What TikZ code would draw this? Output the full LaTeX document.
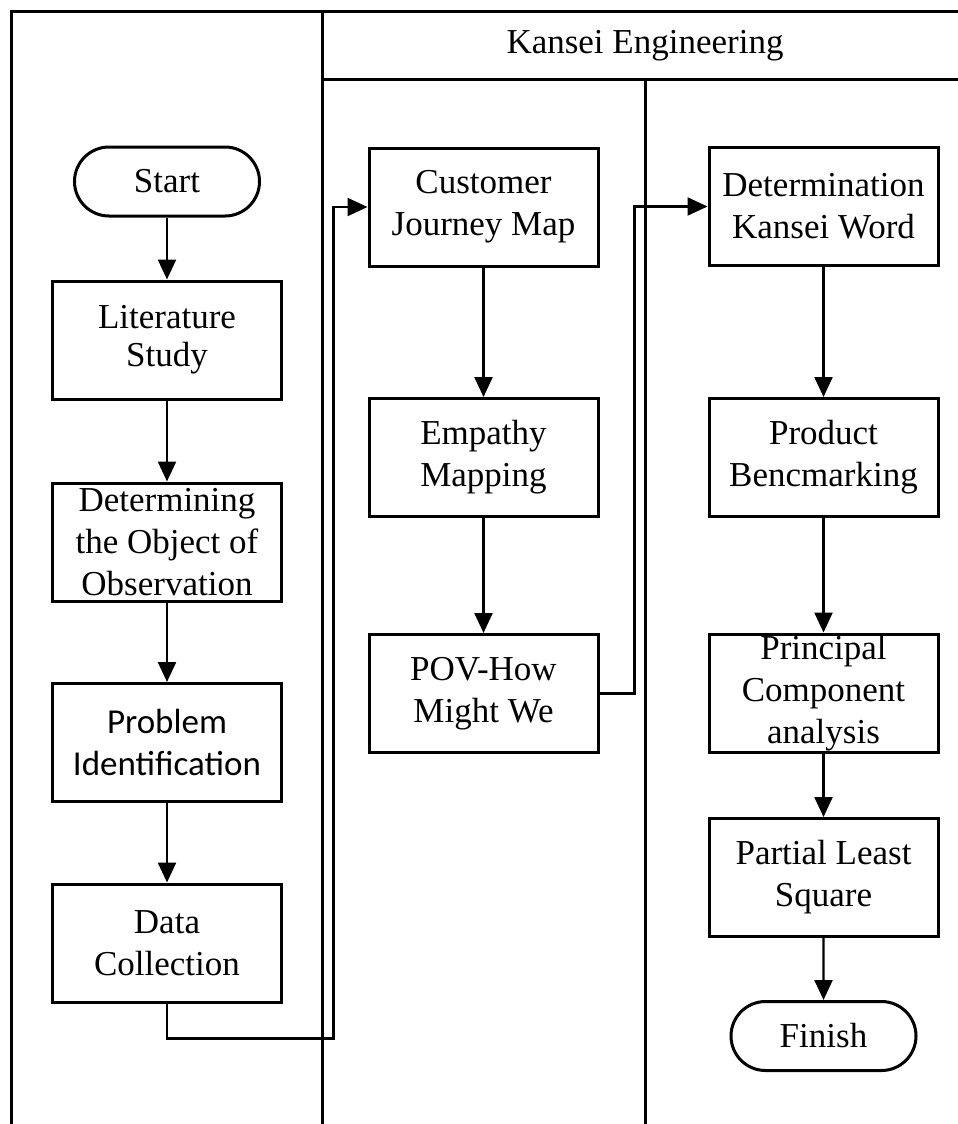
\documentclass[tikz,border=0pt]{standalone}
\usepackage{fontspec}
\setmainfont{Liberation Serif}
\newfontfamily\calib{Carlito}
\usetikzlibrary{arrows.meta,shapes.misc}
\begin{document}
\begin{tikzpicture}[x=1pt,y=-1pt,
  txt/.style={font=\fontsize{35}{42}\selectfont},
  box/.style={txt,draw,line width=3pt,minimum width=229pt,minimum height=118pt,inner sep=0pt,align=center},
  term/.style={txt,draw,line width=3pt,rounded rectangle,minimum width=185pt,minimum height=69pt,inner sep=0pt},
  arr/.style={line width=2.4pt,-{Triangle[length=20pt,width=18pt]}},
  link/.style={line width=2.2pt,-{Triangle[length=20pt,width=18pt]}},
  lane/.style={line width=3pt}]
\useasboundingbox (0,0) rectangle (958,1124);
\fill[white] (0,0) rectangle (958,1124);
% swimlanes
\draw[lane] (11,1124) -- (11,12) -- (958,12);
\draw[lane] (322,12) -- (322,1124);
\draw[lane] (322,79) -- (958,79);
\draw[lane] (645,79) -- (645,1124);
\node[txt] (hdr) at (645,46) {Kansei Engineering};
% lane 1
\node[term] (start) at (167,181.5) {Start};
\node[box,font=\fontsize{35}{38}\selectfont] (lit) at (167,340) {Literature\\Study};
\node[box] (det) at (167,542) {Determining\\the Object of\\Observation};
\node[box,font=\calib\fontsize{35}{42}\selectfont] (prob) at (167,742.5) {Problem\\Identification};
\node[box] (data) at (167,943) {Data\\Collection};
% lane 2
\node[box] (cjm) at (483.5,207) {Customer\\Journey Map};
\node[box] (emp) at (483.5,457.5) {Empathy\\Mapping};
\node[box] (pov) at (483.5,693.5) {POV-How\\Might We};
% lane 3
\node[box] (dkw) at (823.5,206.5) {Determination\\Kansei Word};
\node[box] (pb) at (823.5,457.5) {Product\\Bencmarking};
\node[box] (pca) at (823.5,693) {Principal\\Component\\analysis};
\node[box] (pls) at (823.5,877.5) {Partial Least\\Square};
\node[term] (fin) at (823.5,1036) {Finish};
% arrows
\draw[arr] (start) -- (lit);
\draw[arr] (lit) -- (det);
\draw[arr] (det) -- (prob);
\draw[arr] (prob) -- (data);
\draw[arr] (cjm) -- (emp);
\draw[arr] (emp) -- (pov);
\draw[arr] (dkw) -- (pb);
\draw[arr] (pb) -- (pca);
\draw[arr] (pca) -- (pls);
\draw[arr] (pls) -- (fin);
\draw[link] (data.south) -- ++(0,35) -| ([xshift=-34pt]cjm.west) -- (cjm.west);
\draw[link] (pov.east) -- ++(35,0) |- (dkw.west);
\end{tikzpicture}
\end{document}
